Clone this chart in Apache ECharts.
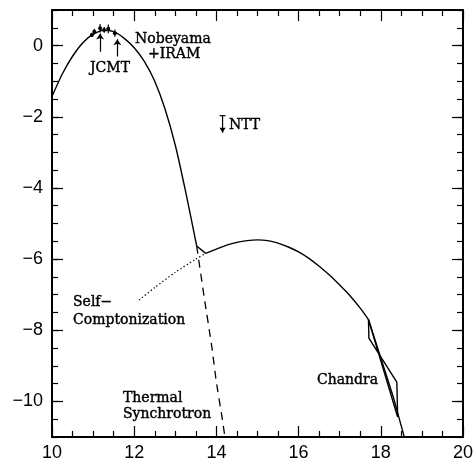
<!DOCTYPE html>
<html>
<head>
<meta charset="utf-8">
<script src="https://cdn.jsdelivr.net/npm/echarts@6/dist/echarts.min.js"></script>
<style>
  html, body { margin: 0; padding: 0; background: #fff; }
  #main { width: 476px; height: 461px; }
</style>
</head>
<body>
<div id="main"></div>
<script>
// thermal synchrotron bump (solid part)
var thermX = [10.0, 10.25, 10.5, 10.75, 11.0, 11.25, 11.5, 11.75, 12.0, 12.25, 12.5, 12.75, 13.0, 13.25, 13.52];
var thermY = [-1.43, -0.8, -0.3, 0.08, 0.32, 0.43, 0.39, 0.21, -0.06, -0.45, -1.0, -1.78, -2.8, -4.1, -5.63];

// Compton hump (solid part)
var humpX = [13.74, 14.0, 14.25, 14.5, 14.75, 15.0, 15.25, 15.5, 15.75, 16.0, 16.25, 16.5, 16.75, 17.0, 17.25, 17.5, 17.7];
var humpY = [-5.84, -5.72, -5.61, -5.53, -5.48, -5.46, -5.48, -5.55, -5.66, -5.8, -5.98, -6.2, -6.45, -6.73, -7.03, -7.38, -7.7];

// X-ray power law
var plawX = [17.7, 18.0, 18.3, 18.6];
var plawY = [-7.7, -8.78, -9.86, -11.12];

// thermal synchrotron continuation (dashed)
var synX = [13.52, 13.7, 13.89, 14.0, 14.13, 14.22];
var synY = [-5.63, -7.05, -8.48, -9.46, -10.39, -11.1];

// self-Comptonization low-frequency part (dotted)
var scX = [12.12, 12.5, 13.0, 13.5, 13.74];
var scY = [-7.15, -6.8, -6.37, -6.0, -5.84];

// Chandra bowtie
var bowX = [17.7, 18.41, 18.39, 17.71, 17.7];
var bowY = [-7.7, -10.44, -9.46, -8.22, -7.7];

// Nobeyama + IRAM / JCMT points
var ptX = [10.97, 11.03, 11.17, 11.27, 11.37, 11.53];
var ptY = [0.3, 0.39, 0.49, 0.44, 0.47, 0.35];
var ptErr = [0.06, 0.08, 0.12, 0.08, 0.12, 0.1];

// JCMT pointer arrows
var jcmtX = [11.17, 11.59];
var jcmtFrom = [-0.17, -0.31];
var jcmtTo = [0.34, 0.18];

// NTT upper limit
var nttX = [14.15];
var nttY = [-1.97];
var nttEnd = [-2.45];

var majorY = [-10, -8, -6, -4, -2, 0];

var chart = echarts.init(document.getElementById('main'));

function minus(v) { return String(v).replace('-', '\u2212'); }

var pair = function (xs, ys) { return xs.map(function (x, i) { return [x, ys[i]]; }); };

var solid = { color: '#000', width: 1.4 };
var tickFont = { color: '#000', fontFamily: 'Liberation Sans, Arial, sans-serif', fontSize: 18 };
var tickLine = { color: '#000', width: 1.2 };
var frame = { color: '#000', width: 2 };

function xAx(pos, labels) {
  return {
    type: 'value', position: pos, min: 10, max: 20, interval: 2,
    axisLine: { show: true, onZero: false, lineStyle: frame },
    axisTick: { inside: true, length: 11, lineStyle: tickLine },
    minorTick: { show: true, splitNumber: 4, length: 6, lineStyle: tickLine },
    axisLabel: labels ? Object.assign({ margin: 7 }, tickFont) : { show: false },
    splitLine: { show: false }
  };
}

function yMajor(pos, labels) {
  return {
    type: 'value', position: pos, min: -11, max: 1,
    axisLine: { show: true, onZero: false, lineStyle: frame },
    axisTick: { inside: true, length: 11, customValues: majorY, lineStyle: tickLine },
    axisLabel: labels ? Object.assign({ margin: 9, customValues: majorY, formatter: minus }, tickFont) : { show: false },
    splitLine: { show: false }
  };
}

function yMinor(pos) {
  return {
    type: 'value', position: pos, min: -11, max: 1, interval: 0.5,
    axisLine: { show: false },
    axisTick: { inside: true, length: 6, lineStyle: tickLine },
    axisLabel: { show: false },
    splitLine: { show: false }
  };
}

function curve(name, xs, ys, style, smooth) {
  return { name: name, type: 'line', data: pair(xs, ys), symbol: 'none', clip: true, smooth: smooth || false, lineStyle: style };
}

var option = {
  animation: false,
  backgroundColor: '#fff',
  grid: { left: 52, right: 13, top: 10, bottom: 24, outerBoundsMode: 'none' },
  xAxis: [xAx('bottom', true), xAx('top', false)],
  yAxis: [yMajor('left', true), yMinor('left'), yMajor('right', false), yMinor('right')],
  series: [
    curve('thermal', thermX, thermY, solid, 0.2),
    curve('link', [thermX[thermX.length - 1], humpX[0]], [thermY[thermY.length - 1], humpY[0]], solid),
    curve('hump', humpX, humpY, solid, 0.2),
    curve('powerlaw', plawX, plawY, solid),
    curve('synchrotron', synX, synY, { color: '#000', width: 1.3, type: [8, 6] }, 0.2),
    curve('compton', scX, scY, { color: '#000', width: 1.3, type: [1.3, 2.4] }, 0.2),
    curve('chandra', bowX, bowY, solid),
    {
      name: 'points', type: 'custom',
      data: ptX.map(function (x, i) { return [x, ptY[i], ptErr[i]]; }),
      renderItem: function (params, api) {
        var c = api.coord([api.value(0), api.value(1)]);
        var hi = api.coord([api.value(0), api.value(1) + api.value(2)]);
        var lo = api.coord([api.value(0), api.value(1) - api.value(2)]);
        return {
          type: 'group',
          children: [
            { type: 'line', shape: { x1: hi[0], y1: hi[1], x2: lo[0], y2: lo[1] }, style: { stroke: '#000', lineWidth: 1.2 } },
            { type: 'circle', shape: { cx: c[0], cy: c[1], r: 2 }, style: { fill: '#000' } }
          ]
        };
      }
    },
    {
      name: 'jcmt', type: 'lines', coordinateSystem: 'cartesian2d',
      data: jcmtX.map(function (x, i) { return { coords: [[x, jcmtFrom[i]], [x, jcmtTo[i]]] }; }),
      symbol: ['none', 'arrow'], symbolSize: 6,
      lineStyle: { color: '#000', width: 1.2, opacity: 1 }
    },
    {
      name: 'ntt', type: 'custom',
      data: nttX.map(function (x, i) { return [x, nttY[i], nttEnd[i]]; }),
      renderItem: function (params, api) {
        var top = api.coord([api.value(0), api.value(1)]);
        var bot = api.coord([api.value(0), api.value(2)]);
        return {
          type: 'group',
          children: [
            { type: 'line', shape: { x1: top[0] - 3, y1: top[1], x2: top[0] + 3, y2: top[1] }, style: { stroke: '#000', lineWidth: 1.2 } },
            { type: 'line', shape: { x1: top[0], y1: top[1], x2: bot[0], y2: bot[1] }, style: { stroke: '#000', lineWidth: 1.2 } },
            { type: 'polygon', shape: { points: [[bot[0] - 3, bot[1] - 5], [bot[0] + 3, bot[1] - 5], [bot[0], bot[1]]] }, style: { fill: '#000' } }
          ]
        };
      }
    }
  ],
  graphic: [
    { text: 'Nobeyama', x: 135, y: 39 },
    { text: '+IRAM', x: 148, y: 54 },
    { text: 'JCMT', x: 90, y: 68 },
    { text: 'NTT', x: 229, y: 125 },
    { text: 'Self\u2212', x: 73, y: 302 },
    { text: 'Comptonization', x: 73, y: 320 },
    { text: 'Chandra', x: 317, y: 380 },
    { text: 'Thermal', x: 123, y: 398 },
    { text: 'Synchrotron', x: 123, y: 414 }
  ].map(function (t) {
    return {
      type: 'text', x: t.x, y: t.y, z: 10,
      style: {
        text: t.text, fill: '#000', stroke: '#000', lineWidth: 0.4,
        fontFamily: 'DejaVu Serif, serif', fontSize: 14,
        verticalAlign: 'middle', align: 'left'
      }
    };
  })
};

chart.setOption(option);
</script>
</body>
</html>
